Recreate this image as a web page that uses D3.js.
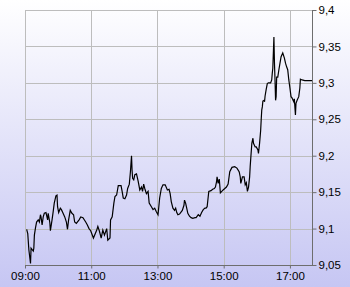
<!DOCTYPE html>
<html>
<head>
<meta charset="utf-8">
<script src="https://cdn.jsdelivr.net/npm/d3@7"></script>
<style>
  html, body { margin: 0; padding: 0; }
  body { width: 350px; height: 287px; overflow: hidden; }
  svg { display: block; }
</style>
</head>
<body>
<svg id="chart" width="350" height="287"></svg>
<script>
// minutes after 09:00
var minutes = [3, 5, 7, 10, 11, 15, 16, 17, 19, 21, 24, 26, 28, 29, 31, 33, 35, 38, 41, 42,
  45, 46, 49, 51, 53, 56, 58, 59, 61, 64, 66, 69, 72, 75, 77, 79, 82, 85, 88, 90,
  93, 98, 101, 105, 110, 113, 116, 119, 124, 130, 132, 135, 138, 141, 144, 148, 150, 154, 155, 158,
  161, 163, 166, 169, 174, 176, 178, 181, 184, 186, 189, 191, 193, 194, 195, 197, 199, 202, 205, 208,
  211, 213, 215, 217, 220, 223, 225, 229, 232, 235, 238, 241, 244, 247, 250, 254, 258, 261, 263, 265,
  268, 271, 273, 275, 277, 280, 283, 285, 288, 289, 291, 293, 295, 298, 301, 304, 308, 310, 314, 317,
  320, 323, 326, 328, 330, 333, 337, 340, 343, 345, 347, 348, 350, 352, 354, 359, 362, 365, 368, 371,
  375, 380, 384, 388, 390, 391, 394, 397, 399, 401, 403, 405, 407, 408, 409, 411, 413, 414, 417, 419,
  422, 423, 425, 427, 428, 429, 430, 431, 433, 434, 435, 437, 439, 441, 445, 447, 448, 449, 451, 452,
  453, 454, 455, 456, 458, 460, 462, 464, 467, 470, 472, 474, 476, 478, 480, 482, 484, 487, 488, 490,
  491, 493, 496, 498, 499, 502, 507, 520];

var prices = [9.099, 9.093, 9.071, 9.052, 9.073, 9.069, 9.073, 9.091, 9.101, 9.109, 9.112, 9.109, 9.119, 9.116, 9.105, 9.116, 9.121, 9.122, 9.112, 9.121,
  9.108, 9.097, 9.112, 9.123, 9.135, 9.145, 9.146, 9.130, 9.122, 9.128, 9.126, 9.121, 9.116, 9.109, 9.099, 9.112, 9.125, 9.121, 9.119, 9.109,
  9.107, 9.112, 9.116, 9.115, 9.109, 9.105, 9.100, 9.097, 9.087, 9.098, 9.103, 9.096, 9.087, 9.098, 9.091, 9.100, 9.084, 9.087, 9.112, 9.116,
  9.135, 9.144, 9.146, 9.159, 9.159, 9.151, 9.142, 9.141, 9.146, 9.155, 9.161, 9.178, 9.200, 9.180, 9.169, 9.167, 9.174, 9.175, 9.165, 9.153,
  9.157, 9.151, 9.161, 9.155, 9.148, 9.151, 9.135, 9.130, 9.126, 9.128, 9.123, 9.119, 9.142, 9.155, 9.160, 9.160, 9.153, 9.154, 9.148, 9.137,
  9.128, 9.125, 9.128, 9.122, 9.119, 9.120, 9.123, 9.125, 9.132, 9.139, 9.135, 9.128, 9.121, 9.117, 9.115, 9.114, 9.115, 9.115, 9.119, 9.117,
  9.122, 9.126, 9.128, 9.128, 9.130, 9.151, 9.152, 9.154, 9.155, 9.157, 9.164, 9.171, 9.162, 9.168, 9.149, 9.153, 9.155, 9.157, 9.161, 9.178,
  9.184, 9.185, 9.183, 9.178, 9.171, 9.162, 9.171, 9.171, 9.160, 9.163, 9.151, 9.157, 9.171, 9.185, 9.196, 9.217, 9.224, 9.217, 9.212, 9.212,
  9.208, 9.203, 9.217, 9.235, 9.250, 9.263, 9.267, 9.275, 9.276, 9.274, 9.282, 9.291, 9.299, 9.300, 9.300, 9.304, 9.313, 9.320, 9.363, 9.327,
  9.304, 9.276, 9.281, 9.308, 9.308, 9.318, 9.327, 9.336, 9.341, 9.334, 9.327, 9.322, 9.318, 9.304, 9.293, 9.281, 9.279, 9.274, 9.278, 9.256,
  9.272, 9.276, 9.281, 9.293, 9.305, 9.304, 9.303, 9.303];

var xTickLabels = ["09:00", "11:00", "13:00", "15:00", "17:00"];
var yTickValues = [9.05, 9.1, 9.15, 9.2, 9.25, 9.3, 9.35, 9.4];

var plotLeft = 25, plotRight = 312, plotTop = 10, plotBottom = 265;

function toDate(str) {
  var p = str.split(":");
  return new Date(2000, 0, 1, +p[0], +p[1]);
}

var data = minutes.map(function(m, i) {
  return { t: new Date(2000, 0, 1, 9, m), v: prices[i] };
});

var x = d3.scaleTime()
  .domain([toDate("09:00"), toDate("17:40")])
  .range([plotLeft, plotRight]);
var y = d3.scaleLinear()
  .domain([9.05, 9.4])
  .range([plotBottom, plotTop]);

var svg = d3.select("#chart");

// background gradient
var grad = svg.append("defs").append("linearGradient")
  .attr("id", "bg").attr("x1", 0).attr("y1", 0).attr("x2", 0).attr("y2", 1);
grad.append("stop").attr("offset", "0%").attr("stop-color", "#ffffff");
grad.append("stop").attr("offset", "100%").attr("stop-color", "#c6c6f3");
svg.append("rect").attr("width", 350).attr("height", 287).attr("fill", "url(#bg)");

// grid
svg.append("g").selectAll("line").data(yTickValues)
  .join("line")
  .attr("x1", plotLeft).attr("x2", plotRight)
  .attr("y1", function(d) { return Math.round(y(d)) + 0.5; })
  .attr("y2", function(d) { return Math.round(y(d)) + 0.5; })
  .attr("stroke", "#bdbdbd");
svg.append("g").selectAll("line").data(xTickLabels)
  .join("line")
  .attr("x1", function(d) { return Math.round(x(toDate(d))) + 0.5; })
  .attr("x2", function(d) { return Math.round(x(toDate(d))) + 0.5; })
  .attr("y1", plotTop).attr("y2", plotBottom)
  .attr("stroke", "#bdbdbd");

// price line
svg.append("path")
  .datum(data)
  .attr("fill", "none")
  .attr("stroke", "#000")
  .attr("stroke-width", 1.2)
  .attr("stroke-linejoin", "miter")
  .attr("d", d3.line()
    .x(function(d) { return x(d.t); })
    .y(function(d) { return y(d.v); }));

// axes
var fmt = d3.format(".2~f");
var yAxis = d3.axisRight(y)
  .tickValues(yTickValues)
  .tickSize(4)
  .tickPadding(2)
  .tickFormat(function(d) { return fmt(d).replace(".", ","); });
var xAxis = d3.axisBottom(x)
  .tickValues(xTickLabels.map(toDate))
  .tickSize(3)
  .tickPadding(3)
  .tickFormat(d3.timeFormat("%H:%M"));

var gy = svg.append("g")
  .attr("transform", "translate(" + (plotRight + 0.5) + ",0)")
  .call(yAxis);
var gx = svg.append("g")
  .attr("transform", "translate(0," + (plotBottom + 0.5) + ")")
  .call(xAxis);

[gx, gy].forEach(function(g) {
  g.select(".domain").remove();
  g.selectAll(".tick line").attr("stroke", "#6e6e6e");
  g.selectAll(".tick text")
    .attr("fill", "#000")
    .style("font-family", "'Liberation Sans', Arial, sans-serif")
    .style("font-size", "11.5px");
});

// frame: light top/left, dark right/bottom
svg.append("line").attr("x1", plotLeft + 0.5).attr("x2", plotLeft + 0.5).attr("y1", plotTop).attr("y2", plotBottom)
  .attr("stroke", "#bdbdbd");
svg.append("line").attr("x1", plotLeft).attr("x2", plotRight).attr("y1", plotTop + 0.5).attr("y2", plotTop + 0.5)
  .attr("stroke", "#bdbdbd");
svg.append("line").attr("x1", plotRight + 0.5).attr("x2", plotRight + 0.5).attr("y1", plotTop).attr("y2", plotBottom + 1)
  .attr("stroke", "#6e6e6e");
svg.append("line").attr("x1", plotLeft).attr("x2", plotRight + 1).attr("y1", plotBottom + 0.5).attr("y2", plotBottom + 0.5)
  .attr("stroke", "#6e6e6e");
</script>
</body>
</html>
